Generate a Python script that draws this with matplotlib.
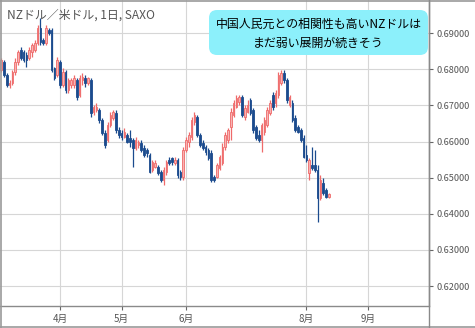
import matplotlib
matplotlib.use("Agg")
import matplotlib.pyplot as plt
from matplotlib.patches import FancyBboxPatch
from matplotlib.lines import Line2D
from matplotlib.transforms import IdentityTransform
import numpy as np
import pandas as pd

plt.rcParams['font.family'] = ['Noto Sans CJK JP', 'DejaVu Sans']

# ---- data (NZD/USD daily) ----
opens = [.6798, .6820, .6784, .6757, .6762, .6793, .6820, .6854, .6848, .6840,
         .6832, .6848, .6854, .6873, .6915, .6881, .6873, .6909, .6909, .6804,
         .6784, .6820, .6757, .6793, .6743, .6757, .6757, .6771, .6729, .6771,
         .6776, .6762, .6771, .6682, .6688, .6688, .6660, .6624, .6604, .6646,
         .6665, .6679, .6632, .6624, .6613, .6618, .6610, .6604, .6582, .6590,
         .6596, .6582, .6577, .6563, .6521, .6530, .6530, .6516, .6494, .6516,
         .6549, .6554, .6541, .6549, .6516, .6502, .6577, .6599, .6613, .6654,
         .6668, .6618, .6596, .6585, .6577, .6568, .6502, .6502, .6527, .6541,
         .6585, .6604, .6640, .6674, .6696, .6710, .6724, .6668, .6682, .6715,
         .6688, .6640, .6618, .6604, .6627, .6646, .6679, .6729, .6707, .6729,
         .6762, .6790, .6771, .6701, .6707, .6665, .6640, .6632, .6610, .6563,
         .6513, .6535, .6535, .6521, .6444, .6485, .6466, .6447]
highs = [.6832, .6826, .6790, .6771, .6798, .6832, .6854, .6862, .6854, .6848,
         .6862, .6873, .6881, .6923, .6942, .6887, .6923, .6915, .6915, .6807,
         .6834, .6826, .6804, .6798, .6776, .6776, .6784, .6776, .6784, .6790,
         .6784, .6779, .6776, .6701, .6707, .6693, .6665, .6632, .6654, .6682,
         .6688, .6688, .6640, .6632, .6638, .6624, .6632, .6610, .6613, .6604,
         .6604, .6590, .6582, .6568, .6549, .6549, .6535, .6521, .6530, .6549,
         .6557, .6557, .6557, .6554, .6521, .6585, .6613, .6627, .6668, .6682,
         .6674, .6624, .6604, .6590, .6582, .6577, .6507, .6541, .6563, .6596,
         .6627, .6638, .6693, .6715, .6729, .6729, .6729, .6701, .6715, .6721,
         .6693, .6646, .6632, .6651, .6668, .6696, .6715, .6737, .6743, .6793,
         .6798, .6798, .6776, .6729, .6715, .6674, .6646, .6638, .6618, .6590,
         .6554, .6585, .6577, .6535, .6507, .6499, .6471, .6458]
lows = [.6793, .6779, .6751, .6748, .6757, .6784, .6812, .6826, .6820, .6807,
        .6826, .6834, .6848, .6868, .6868, .6868, .6868, .6895, .6793, .6771,
        .6779, .6748, .6751, .6735, .6735, .6748, .6748, .6715, .6724, .6757,
        .6751, .6757, .6668, .6674, .6682, .6651, .6618, .6582, .6599, .6640,
        .6660, .6624, .6610, .6604, .6610, .6596, .6585, .6530, .6577, .6582,
        .6571, .6557, .6557, .6513, .6516, .6527, .6507, .6488, .6480, .6507,
        .6535, .6535, .6535, .6499, .6494, .6494, .6571, .6585, .6604, .6646,
        .6613, .6585, .6577, .6563, .6549, .6488, .6488, .6499, .6521, .6535,
        .6577, .6596, .6604, .6668, .6693, .6701, .6668, .6660, .6679, .6674,
        .6624, .6604, .6599, .6571, .6618, .6640, .6674, .6688, .6696, .6721,
        .6757, .6762, .6707, .6696, .6654, .6627, .6624, .6599, .6554, .6543,
        .6494, .6521, .6516, .6377, .6438, .6452, .6444, .6444]
closes = [.6826, .6784, .6757, .6762, .6793, .6820, .6848, .6832, .6826, .6826,
          .6854, .6868, .6873, .6915, .6876, .6873, .6915, .6901, .6798, .6776,
          .6826, .6757, .6793, .6743, .6771, .6771, .6776, .6724, .6776, .6779,
          .6762, .6776, .6679, .6696, .6696, .6660, .6624, .6590, .6646, .6674,
          .6682, .6632, .6618, .6613, .6627, .6599, .6599, .6582, .6604, .6599,
          .6577, .6563, .6568, .6516, .6543, .6541, .6513, .6494, .6521, .6543,
          .6541, .6543, .6549, .6507, .6502, .6577, .6604, .6618, .6660, .6674,
          .6618, .6590, .6582, .6571, .6554, .6494, .6494, .6535, .6557, .6585,
          .6618, .6632, .6682, .6707, .6721, .6724, .6674, .6693, .6701, .6679,
          .6632, .6610, .6604, .6646, .6660, .6688, .6707, .6696, .6735, .6784,
          .6790, .6771, .6715, .6724, .6660, .6632, .6627, .6604, .6557, .6549,
          .6549, .6527, .6521, .6444, .6494, .6458, .6447, .6455]

start_date = "2019-03-01"
axis_end_date = "2019-10-31"
month_ticks = [4, 5, 6, 8, 9]
month_labels = ["4月", "5月", "6月", "8月", "9月"]
price_ticks = [0.62, 0.63, 0.64, 0.65, 0.66, 0.67, 0.68, 0.69]
title_text = "NZドル／米ドル, 1日, SAXO"
note_lines = ["中国人民元との相関性も高いNZドルは", "まだ弱い展開が続きそう"]

UP = "#ef6a6a"
UP_FILL = "#f7b3b3"
DOWN = "#1b4b8e"

W, H = 475, 328
fig = plt.figure(figsize=(W / 100, H / 100), dpi=100)
fig.patch.set_facecolor("white")

ax_left, ax_right, ax_top, ax_bottom = 0, 429, 0, 305.5
ax = fig.add_axes([ax_left / W, (H - ax_bottom) / H,
                   (ax_right - ax_left) / W, (ax_bottom - ax_top) / H])

dates = pd.bdate_range(start_date, periods=len(closes))
axis_dates = pd.bdate_range(start_date, axis_end_date)
idx = np.arange(len(closes))

o = np.array(opens); c = np.array(closes)
h = np.array(highs); l = np.array(lows)
up = c >= o

ax.vlines(idx[up], l[up], h[up], color=UP, linewidth=0.9, zorder=3)
ax.vlines(idx[~up], l[~up], h[~up], color=DOWN, linewidth=0.9, zorder=3)
bw = 0.62
ax.bar(idx[up], (c - o)[up], bottom=o[up], width=bw, color=UP_FILL,
       edgecolor=UP, linewidth=0.6, zorder=4)
ax.bar(idx[~up], (c - o)[~up], bottom=o[~up], width=bw, color=DOWN,
       edgecolor=DOWN, linewidth=0.6, zorder=4)

# x axis: month starts
tick_pos = []
for m in month_ticks:
    pos = np.where(axis_dates.month == m)[0][0]
    tick_pos.append(pos)
ax.set_xticks(tick_pos)
ax.set_xticklabels(month_labels)

ax.set_xlim(-0.43, 152.8)
ax.set_ylim(0.6146, 0.69922)
ax.set_yticks(price_ticks)
ax.set_yticklabels([f"{v:.5f}" for v in price_ticks])
ax.yaxis.tick_right()

ax.grid(True, color="#d6d6d6", linewidth=0.8, zorder=0)
ax.set_axisbelow(True)
ax.tick_params(axis="y", labelsize=6.6, colors="#666666", length=3, width=0.8,
               pad=2.5, labelcolor="#555555")
ax.tick_params(axis="x", labelsize=7, colors="#666666", length=3, width=0.8,
               pad=3, labelcolor="#555555")
for side in ["left", "top", "right", "bottom"]:
    ax.spines[side].set_color("#8a8a8a")
    ax.spines[side].set_linewidth(1.0)
ax.spines["left"].set_visible(False)
ax.spines["top"].set_visible(False)

# outer frame lines
frame_col = "#9a9a9a"
fig.add_artist(Line2D([0.5 / W, 0.5 / W], [0, 1], transform=fig.transFigure,
                      color=frame_col, linewidth=1.2))
fig.add_artist(Line2D([0, 1], [1 - 0.5 / H, 1 - 0.5 / H], transform=fig.transFigure,
                      color=frame_col, linewidth=1.2))
fig.add_artist(Line2D([0, 1], [0.6 / H, 0.6 / H], transform=fig.transFigure,
                      color=frame_col, linewidth=1.2))
fig.add_artist(Line2D([ax_right / W, ax_right / W], [0, 1], transform=fig.transFigure,
                      color="#8a8a8a", linewidth=1.0))

# title
fig.text(7 / W, 1 - 15 / H, title_text, fontsize=8.6, color="#555555",
         ha="left", va="center")

# annotation box
bx0, by0, bx1, by1 = 209, 10, 428, 55
box = FancyBboxPatch((bx0, H - by1), bx1 - bx0, by1 - by0,
                     boxstyle="round,pad=0,rounding_size=8",
                     transform=IdentityTransform(), facecolor="#8cf0fb",
                     edgecolor="none", zorder=10)
fig.add_artist(box)
cx = (bx0 + bx1) / 2 / W
fig.text(cx, 1 - 24 / H, note_lines[0], fontsize=8.6, color="black",
         ha="center", va="center", zorder=11)
fig.text(cx, 1 - 43 / H, note_lines[1], fontsize=8.6, color="black",
         ha="center", va="center", zorder=11)

fig.savefig("out.png", dpi=100, facecolor="white")
